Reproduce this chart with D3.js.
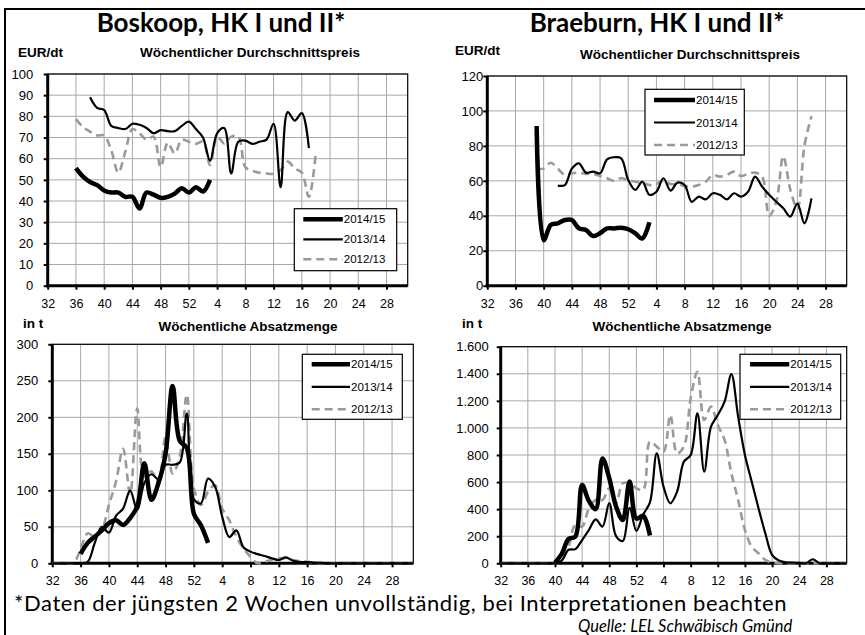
<!DOCTYPE html>
<html>
<head>
<meta charset="utf-8">
<script src="https://cdn.jsdelivr.net/npm/d3@7"></script>
<style>
    body { margin: 0; background: #fff; }
    svg { display: block; }
</style>
</head>
<body>
<div id="chart"></div>
<script>
// season weeks: week 32 of one year through week 31 of the next
const weeks = d3.range(32, 53).concat(d3.range(1, 32));
const tick_weeks = [32, 36, 40, 44, 48, 52, 4, 8, 12, 16, 20, 24, 28];
const seasons = ["2014/15", "2013/14", "2012/13"];

// Boskoop, weekly average price (EUR/dt); first week of each season in *_start
const boskoop_price_start = [36, 38, 36];
const boskoop_price_1415 = [55.5, 51.5, 49, 47.5, 45, 44, 44, 42, 42, 36.5, 44, 43, 41.5, 42, 43.5, 46, 44, 46.5, 44.5, 50];
const boskoop_price_1314 = [89, 84, 83, 75.5, 74.5, 74, 76.5, 76, 74.5, 72, 73.5, 73, 73, 75.5, 77.5, 74, 70, 59, 72, 74.5, 53, 68, 68.5, 67, 68, 69, 76.5, 46.5, 82, 78, 81.5, 65];
const boskoop_price_1213 = [78.7, 75, 72.8, 71, 71, 64, 53.4, 63.3, 74, 72, 69, 70.4, 56, 67.5, 62.5, 69, 68, 67, 68, 57, 70.4, 67.2, 70.4, 70.4, 56, 54.3, 53.4, 53, 52.8, 54.6, 58.6, 55.4, 53.4, 42, 63.3];

// Braeburn, weekly average price (EUR/dt)
const braeburn_price_start = [39, 42, 39];
const braeburn_price_1415 = [91.4, 26, 34.7, 35.7, 37.6, 37.6, 32.8, 31.9, 28.4, 30, 32.8, 32.8, 33.2, 32.3, 30, 27, 36.3];
const braeburn_price_1314 = [57.3, 57.6, 67, 70, 64.7, 65.3, 64.3, 72.3, 73.5, 72.9, 60.5, 54.8, 59.5, 52, 53.8, 61.5, 54.4, 59, 57.6, 48, 51, 49.4, 52.9, 52, 49.4, 52.9, 51, 53.8, 62.4, 56.7, 52, 48, 44.3, 39.5, 47, 35.7, 50];
const braeburn_price_1213 = [67, 67, 70.4, 67, 63.4, 64.3, 64.7, 64, 64, 62.8, 61.5, 60, 61.5, 60.5, 59.5, 59, 57.6, 58.2, 60.5, 58.2, 58.2, 57, 56.7, 57.6, 59.5, 63.4, 62.4, 63.4, 65.3, 62.8, 64, 64.7, 62.4, 40, 48, 74, 55, 44, 80, 97];

// Boskoop, weekly sales volume (t)
const boskoop_volume_start = [36, 32, 32];
const boskoop_volume_1415 = [13, 28, 36.5, 45, 55, 59, 52.5, 62, 78, 137, 87, 110, 150, 243, 168, 158, 68, 52, 28];
const boskoop_volume_1314 = [0, 0, 0, 0, 0, 2, 28, 50, 42, 65, 75, 100, 73, 110, 122, 115, 135, 135, 138, 205, 88,
    82, 116, 105, 64, 36, 45, 22, 16, 12.5, 10, 7, 4.5, 8, 3.5, 2, 1.5, 1, 0.5, 0, 0, 0, 0, 0, 0, 0, 0, 0, 0, 0, 0, 0];
const boskoop_volume_1213 = [0, 0, 0, 0, 20, 41, 36.5, 46, 80, 112, 157, 95, 212, 119, 126, 112, 173, 123, 146, 231, 103,
    80, 98, 107, 75, 59, 36.5, 20.5, 9, 0, 2, 5, 7, 7, 4.5, 3, 2, 1, 0.5, 0, 0, 0, 0, 0, 0, 0, 0, 0, 0, 0, 0, 0];

// Braeburn, weekly sales volume (t)
const braeburn_volume_start = [40, 32, 32];
const braeburn_volume_1415 = [5, 70, 180, 197, 578, 460, 400, 775, 630, 420, 320, 605, 330, 350, 205];
const braeburn_volume_1314 = [0, 0, 0, 0, 0, 0, 0, 0, 0, 20, 100, 105, 172, 246, 325, 271, 445, 200, 165, 410, 240,
    360, 450, 812, 566, 443, 529, 751, 800, 1108, 677, 1009, 1095, 1194, 1398, 1083, 800, 603, 406, 222, 62, 20, 8, 5, 3, 0, 30, 0, 0, 0, 0, 0];
const braeburn_volume_1213 = [0, 0, 0, 0, 0, 0, 0, 0, 0, 25, 123, 283, 271, 406, 468, 468, 554, 443, 591, 591, 554,
    541, 898, 862, 825, 1095, 812, 862, 1218, 1415, 1058, 1157, 1022, 911, 665, 468, 246, 123, 74, 25, 5, 0, 0, 0, 0, 0, 0, 0, 0, 0, 0, 0];

// line look per season
const season_styles = {
    "2014/15": {color: "#000", width: 4.5, dash: null},
    "2013/14": {color: "#000", width: 2.2, dash: null},
    "2012/13": {color: "#9a9a9a", width: 2.6, dash: "8,5"}
};

const de_locale = d3.formatLocale({decimal: ",", thousands: ".", grouping: [3], currency: ["", " €"]});

class Season_Line_Chart {
    constructor(svg, config) {
        this.svg = svg;
        this.config = config;
        this.initVis();
    }

    initVis() {
        let c = this.config;
        this.g = this.svg.append("g");

        // scales
        this.x = d3.scaleLinear()
            .domain([0, weeks.length - 1])
            .range([c.left, c.right]);
        this.y = d3.scaleLinear()
            .domain([0, c.y_max])
            .range([c.bottom, c.top]);
        this.y_ticks = d3.range(0, c.y_max + c.y_step / 2, c.y_step);
        this.x_ticks = tick_weeks.map(w => weeks.indexOf(w));

        // headers
        this.g.append("text")
            .attr("x", c.title_x).attr("y", c.title_y)
            .attr("text-anchor", "middle")
            .attr("font-family", "Lato, 'Open Sans', sans-serif")
            .attr("font-weight", "bold")
            .attr("font-size", "26px")
            .text(c.title);
        this.g.append("text")
            .attr("x", c.unit_x).attr("y", c.unit_y)
            .attr("font-family", "'Liberation Sans', Arial, sans-serif")
            .attr("font-weight", "bold")
            .attr("font-size", "13.5px")
            .text(c.unit);
        this.g.append("text")
            .attr("x", c.sub_x).attr("y", c.sub_y)
            .attr("text-anchor", "middle")
            .attr("font-family", "'Liberation Sans', Arial, sans-serif")
            .attr("font-weight", "bold")
            .attr("font-size", "13.5px")
            .text(c.subtitle);

        this.wrangleData();
    }

    wrangleData() {
        // turn each season's values into {i, v} points on the week index
        let c = this.config;
        this.series = seasons.map((s, k) => {
            let start = weeks.indexOf(c.starts[k]);
            return {season: s, points: c.values[k].map((v, j) => ({i: start + j, v: v}))};
        });
        this.updateVis();
    }

    updateVis() {
        let c = this.config;
        let vis = this;

        // grid
        this.g.append("g")
            .selectAll("line")
            .data(this.x_ticks.slice(1))
            .join("line")
            .attr("x1", d => vis.x(d)).attr("x2", d => vis.x(d))
            .attr("y1", c.top).attr("y2", c.bottom)
            .attr("stroke", "#a8a8a8").attr("stroke-width", 1);
        this.g.append("g")
            .selectAll("line")
            .data(this.y_ticks.slice(1))
            .join("line")
            .attr("x1", c.left).attr("x2", c.right)
            .attr("y1", d => vis.y(d)).attr("y2", d => vis.y(d))
            .attr("stroke", "#a8a8a8").attr("stroke-width", 1);

        // thin frame on top and right
        this.g.append("rect")
            .attr("x", c.left).attr("y", c.top)
            .attr("width", c.right - c.left).attr("height", c.bottom - c.top)
            .attr("fill", "none").attr("stroke", "#000").attr("stroke-width", 1.2);

        // y axis
        let y_axis = this.g.append("g")
            .attr("transform", "translate(" + c.left + ",0)")
            .call(d3.axisLeft(this.y)
                .tickValues(this.y_ticks)
                .tickSize(4)
                .tickPadding(c.label_gap)
                .tickFormat(c.y_format));
        y_axis.select(".domain").remove();
        y_axis.selectAll("line").attr("stroke-width", 2);
        y_axis.selectAll("text")
            .attr("font-family", "'Liberation Sans', Arial, sans-serif")
            .attr("font-size", "13px")
            .attr("fill", "#000");

        // x axis
        let x_axis = this.g.append("g")
            .attr("transform", "translate(0," + c.bottom + ")")
            .call(d3.axisBottom(this.x)
                .tickValues(this.x_ticks)
                .tickSize(4)
                .tickPadding(9)
                .tickFormat(i => weeks[i]));
        x_axis.select(".domain").remove();
        x_axis.selectAll("line").attr("stroke-width", 2);
        x_axis.selectAll("text")
            .attr("font-family", "'Liberation Sans', Arial, sans-serif")
            .attr("font-size", "12.5px")
            .attr("fill", "#000");

        // thick axis lines
        this.g.append("line")
            .attr("x1", c.left).attr("x2", c.left)
            .attr("y1", c.top).attr("y2", c.bottom + 1.5)
            .attr("stroke", "#000").attr("stroke-width", 3);
        this.g.append("line")
            .attr("x1", c.left - 1.5).attr("x2", c.right)
            .attr("y1", c.bottom).attr("y2", c.bottom)
            .attr("stroke", "#000").attr("stroke-width", 3);

        // series lines, oldest first so 2014/15 sits on top
        let line = d3.line()
            .x(d => vis.x(d.i))
            .y(d => vis.y(d.v))
            .curve(d3.curveCatmullRom.alpha(0.5));

        this.g.append("g")
            .selectAll("path")
            .data(this.series.slice().reverse())
            .join("path")
            .attr("d", d => line(d.points))
            .attr("fill", "none")
            .attr("stroke", d => season_styles[d.season].color)
            .attr("stroke-width", d => season_styles[d.season].width)
            .attr("stroke-dasharray", d => season_styles[d.season].dash)
            .attr("stroke-linejoin", "round");

        // legend
        let lg = c.legend;
        let legend = this.g.append("g").attr("class", "legend");
        legend.append("rect")
            .attr("x", lg.x).attr("y", lg.y)
            .attr("width", lg.w).attr("height", lg.h)
            .attr("fill", "#fff").attr("stroke", "#000").attr("stroke-width", 1.2);
        legend.selectAll("line")
            .data(seasons)
            .join("line")
            .attr("x1", lg.x + lg.line_from).attr("x2", lg.x + lg.line_to)
            .attr("y1", (d, i) => lg.y + lg.first + i * lg.gap)
            .attr("y2", (d, i) => lg.y + lg.first + i * lg.gap)
            .attr("stroke", d => season_styles[d].color)
            .attr("stroke-width", d => season_styles[d].width)
            .attr("stroke-dasharray", d => season_styles[d].dash);
        legend.selectAll("text")
            .data(seasons)
            .join("text")
            .attr("x", lg.x + lg.line_to + 1)
            .attr("y", (d, i) => lg.y + lg.first + i * lg.gap)
            .attr("dy", "0.36em")
            .attr("font-family", "'Liberation Sans', Arial, sans-serif")
            .attr("font-size", "11.5px")
            .text(d => d);
    }
}

// page
const svg = d3.select("#chart").append("svg")
    .attr("width", 865)
    .attr("height", 635);

svg.append("rect")
    .attr("x", 5).attr("y", 9)
    .attr("width", 900).attr("height", 700)
    .attr("fill", "none").attr("stroke", "#000").attr("stroke-width", 2);

new Season_Line_Chart(svg, {
    left: 47.7, right: 407.7, top: 74, bottom: 285.7,
    y_max: 100, y_step: 10, y_format: d3.format("d"), label_gap: 10.5,
    title: "Boskoop, HK I und II*", title_x: 221, title_y: 32,
    unit: "EUR/dt", unit_x: 18, unit_y: 57,
    subtitle: "Wöchentlicher Durchschnittspreis", sub_x: 250, sub_y: 57,
    starts: boskoop_price_start,
    values: [boskoop_price_1415, boskoop_price_1314, boskoop_price_1213],
    legend: {x: 294.3, y: 208.7, w: 102.4, h: 62, first: 10.6, gap: 20, line_from: 9, line_to: 48.5}
});

new Season_Line_Chart(svg, {
    left: 487.3, right: 846.7, top: 76, bottom: 285.7,
    y_max: 120, y_step: 20, y_format: d3.format("d"), label_gap: 0,
    title: "Braeburn, HK I und II*", title_x: 657, title_y: 32,
    unit: "EUR/dt", unit_x: 455, unit_y: 55,
    subtitle: "Wöchentlicher Durchschnittspreis", sub_x: 690, sub_y: 59,
    starts: braeburn_price_start,
    values: [braeburn_price_1415, braeburn_price_1314, braeburn_price_1213],
    legend: {x: 645, y: 89.3, w: 99.3, h: 65.7, first: 10.7, gap: 22.5, line_from: 9, line_to: 50}
});

new Season_Line_Chart(svg, {
    left: 52.3, right: 413.3, top: 344.3, bottom: 563.3,
    y_max: 300, y_step: 50, y_format: d3.format("d"), label_gap: 10,
    title: "", title_x: 0, title_y: 0,
    unit: "in t", unit_x: 23, unit_y: 328,
    subtitle: "Wöchentliche Absatzmenge", sub_x: 248, sub_y: 331,
    starts: boskoop_volume_start,
    values: [boskoop_volume_1415, boskoop_volume_1314, boskoop_volume_1213],
    legend: {x: 302.3, y: 354.3, w: 100, h: 65, first: 10, gap: 22.5, line_from: 9.4, line_to: 47.7}
});

new Season_Line_Chart(svg, {
    left: 500.7, right: 846.7, top: 346.7, bottom: 563.3,
    y_max: 1600, y_step: 200, y_format: de_locale.format(","), label_gap: 8,
    title: "", title_x: 0, title_y: 0,
    unit: "in t", unit_x: 462, unit_y: 328,
    subtitle: "Wöchentliche Absatzmenge", sub_x: 682, sub_y: 331,
    starts: braeburn_volume_start,
    values: [braeburn_volume_1415, braeburn_volume_1314, braeburn_volume_1213],
    legend: {x: 740, y: 354.3, w: 100.7, h: 65, first: 10, gap: 22.5, line_from: 10, line_to: 49.3}
});

// footnote and source
svg.append("text")
    .attr("x", 14).attr("y", 610.5)
    .attr("font-family", "Lato, 'Open Sans', sans-serif")
    .attr("font-size", "22px")
    .attr("letter-spacing", "0.6px")
    .text("*Daten der jüngsten 2 Wochen unvollständig, bei Interpretationen beachten");
svg.append("text")
    .attr("x", 578).attr("y", 632)
    .attr("font-family", "Lato, 'Open Sans', sans-serif")
    .attr("font-style", "italic")
    .attr("font-size", "16.5px")
    .text("Quelle: LEL Schwäbisch Gmünd");
</script>
</body>
</html>
